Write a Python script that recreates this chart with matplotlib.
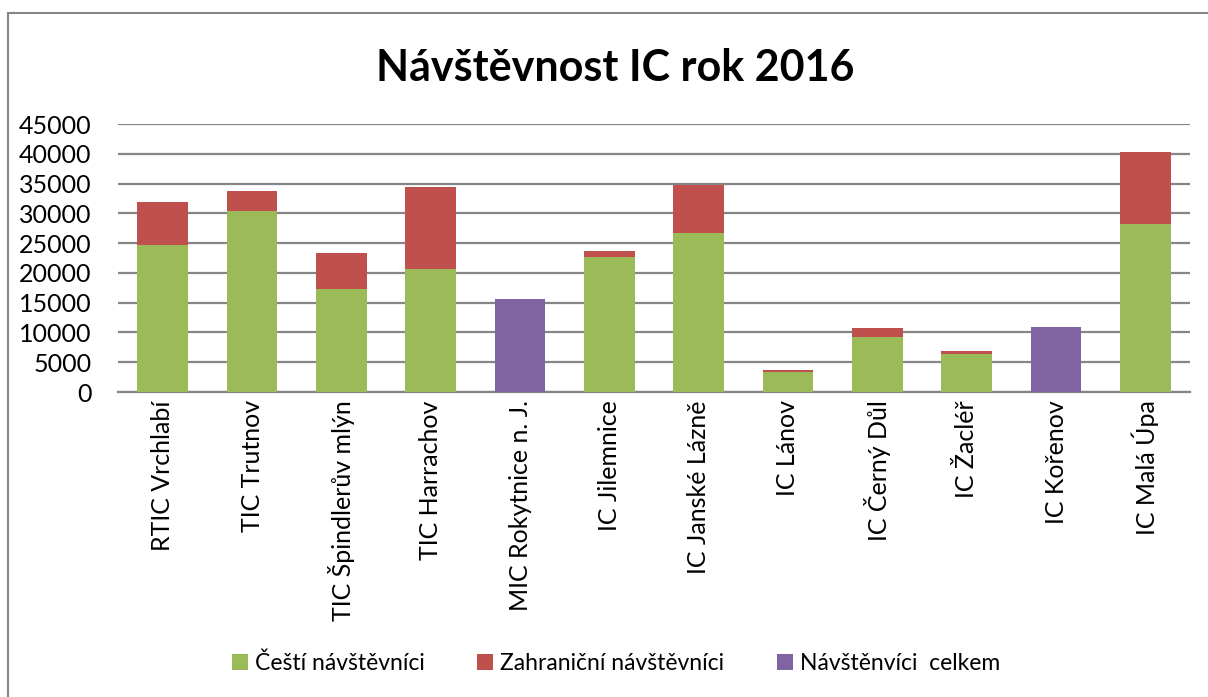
import matplotlib.pyplot as plt
import numpy as np
from matplotlib.lines import Line2D

plt.rcParams['font.family'] = ['Lato', 'DejaVu Sans']

categories = ['RTIC Vrchlabí', 'TIC Trutnov', 'TIC Špindlerův mlýn', 'TIC Harrachov',
              'MIC Rokytnice n. J.', 'IC Jilemnice', 'IC Janské Lázně', 'IC Lánov',
              'IC Černý Důl', 'IC Žacléř', 'IC Kořenov', 'IC Malá Úpa']
czech = [24750, 30450, 17350, 20600, 0, 22600, 26750, 3400, 9300, 6450, 0, 28150]
foreign = [7150, 3300, 6000, 13900, 0, 1000, 8050, 300, 1500, 500, 0, 12200]
total_only = [0, 0, 0, 0, 15600, 0, 0, 0, 0, 0, 10900, 0]
series_names = ['Čeští návštěvníci', 'Zahraniční návštěvníci', 'Návštěnvíci  celkem']
colors = ['#9BBB59', '#C0504D', '#8064A2']

fig = plt.figure(figsize=(12.08, 6.97), dpi=100)
ax = fig.add_axes([118 / 1208, 1 - 392 / 697, (1190 - 118) / 1208, (392 - 124) / 697])

x = np.arange(len(categories))
w = 0.565
czech = np.array(czech)
foreign = np.array(foreign)
total_only = np.array(total_only)
ax.bar(x, czech, w, color=colors[0], label=series_names[0], zorder=3)
ax.bar(x, foreign, w, bottom=czech, color=colors[1], label=series_names[1], zorder=3)
ax.bar(x, total_only, w, bottom=czech + foreign, color=colors[2], label=series_names[2], zorder=3)

ax.set_xlim(-0.5, len(categories) - 0.5)
ax.set_ylim(0, 45000)
ax.set_yticks(np.arange(0, 45001, 5000))
ax.yaxis.grid(True, color='#868686', lw=1.6, zorder=0)
ax.set_axisbelow(True)
for s in ['top', 'right', 'left']:
    ax.spines[s].set_visible(False)
ax.spines['bottom'].set_color('#868686')
ax.spines['bottom'].set_linewidth(1.6)
ax.tick_params(axis='y', length=0, labelsize=18, pad=19)
ax.tick_params(axis='x', length=0, labelsize=18, pad=6)
ax.set_xticks(x)
ax.set_xticklabels(categories, rotation=90, va='top', ha='center')

fig.text(0.509, 1 - 68 / 697, 'Návštěvnost IC rok 2016', ha='center', va='center',
         fontsize=31, fontweight='bold')

fig.legend(loc='center', bbox_to_anchor=(0.51, 1 - 663 / 697), ncol=3, frameon=False,
           fontsize=16.5, handlelength=0.7, handleheight=0.7, handletextpad=0.3,
           columnspacing=2.3)

# chart border
fig.add_artist(Line2D([8 / 1208, 8 / 1208], [0, 1 - 13 / 697], transform=fig.transFigure,
                      color='#868686', lw=1.5))
fig.add_artist(Line2D([8 / 1208, 1], [1 - 13 / 697, 1 - 13 / 697], transform=fig.transFigure,
                      color='#868686', lw=1.5))

fig.savefig('out.png', dpi=100)
